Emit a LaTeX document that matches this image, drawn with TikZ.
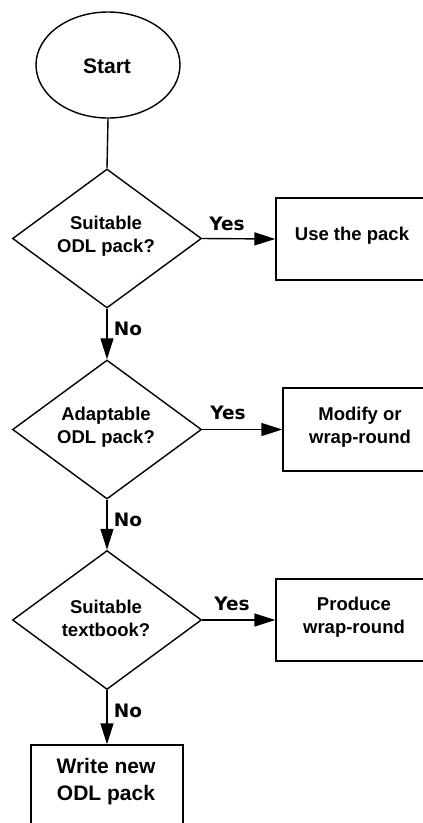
\documentclass[tikz,border=0pt]{standalone}
\usepackage{fontspec}
\setmainfont{Liberation Sans}
\newfontfamily\lblfont{DejaVu Sans}
\usetikzlibrary{shapes.geometric,arrows.meta}
\begin{document}
\begin{tikzpicture}[x=1pt,y=-1pt,
  shapeline/.style={draw=black,line width=1.4pt},
  decision/.style={shapeline,diamond,minimum width=189pt,minimum height=139pt,inner sep=0pt},
  procbox/.style={shapeline,rectangle,minimum width=154pt,inner sep=0pt},
  maintext/.style={font=\bfseries\fontsize{18.5}{23}\selectfont,align=center,inner sep=0pt},
  bigtext/.style={font=\bfseries\fontsize{21}{27}\selectfont,align=center,inner sep=0pt},
  branch/.style={font=\lblfont\bfseries\fontsize{18.5}{22}\selectfont,inner sep=0pt},
  conn/.style={line width=1.4pt,-{Triangle[length=21pt,width=13pt]}},
  plain/.style={line width=1.4pt}]
\useasboundingbox (0,0) rectangle (423,823);
\clip (0,0) rectangle (423,823);
% Start
\node[shapeline,ellipse,minimum width=144pt,minimum height=106pt,inner sep=0pt] (start) at (108,65) {};
\node[bigtext] (startt) at (107,66) {Start};
% Decisions
\node[decision] (d1) at (107,238.5) {};
\node[maintext] (d1t) at (106,236) {Suitable\\ODL pack?};
\node[decision] (d2) at (107,429.5) {};
\node[maintext] (d2t) at (106,427) {Adaptable\\ODL pack?};
\node[decision] (d3) at (107,620) {};
\node[maintext] (d3t) at (106,618) {Suitable\\textbook?};
% Boxes
\node[procbox,minimum height=82pt] (b1) at (353,239) {};
\node[maintext] (b1t) at (352,236) {Use the pack};
\node[procbox,minimum height=83pt] (b2) at (360,429.5) {};
\node[maintext] (b2t) at (360,427) {Modify or\\wrap-round};
\node[procbox,minimum height=82pt] (b3) at (353,620) {};
\node[maintext] (b3t) at (354,617) {Produce\\wrap-round};
\node[procbox,minimum width=152pt,minimum height=110pt] (b4) at (107,800) {};
\node[bigtext] (b4t) at (106,782) {Write new\\ODL pack};
% Connectors
\draw[plain] (start.south) -- (d1.north);
\draw[conn] (d1.east) -- (b1.west);
\draw[conn] (d2.east) -- (b2.west);
\draw[conn] (d3.east) -- (b3.west);
\draw[conn] (d1.south) -- (d2.north);
\draw[conn] (d2.south) -- (d3.north);
\draw[conn] (d3.south) -- (b4.north);
% Branch labels
\node[branch] (y1) at (227,224) {Yes};
\node[branch] (y2) at (228,413) {Yes};
\node[branch] (y3) at (232,604) {Yes};
\node[branch] (n1) at (128,329) {No};
\node[branch] (n2) at (128,520) {No};
\node[branch] (n3) at (128,711) {No};
\end{tikzpicture}
\end{document}
